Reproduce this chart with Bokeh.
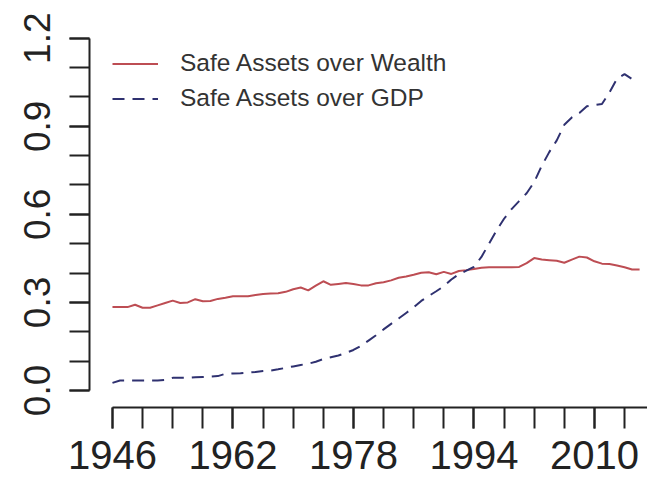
from bokeh.plotting import figure
from bokeh.models import FixedTicker, Range1d, Legend, LegendItem
from bokeh.embed import file_html
from bokeh.resources import INLINE

# ---- data ----
years_wealth = [1946, 1947, 1948, 1949, 1950, 1951, 1952, 1953, 1954, 1955,
                1956, 1957, 1958, 1959, 1960, 1961, 1962, 1963, 1964, 1965,
                1966, 1967, 1968, 1969, 1970, 1971, 1972, 1973, 1974, 1975,
                1976, 1977, 1978, 1979, 1980, 1981, 1982, 1983, 1984, 1985,
                1986, 1987, 1988, 1989, 1990, 1991, 1992, 1993, 1994, 1995,
                1996, 1997, 1998, 1999, 2000, 2001, 2002, 2003, 2004, 2005,
                2006, 2007, 2008, 2009, 2010, 2011, 2012, 2013, 2014, 2015,
                2016]
safe_over_wealth = [0.284, 0.284, 0.284, 0.292, 0.282, 0.282, 0.290, 0.298, 0.306, 0.298,
                    0.300, 0.311, 0.304, 0.305, 0.312, 0.316, 0.321, 0.321, 0.321, 0.325,
                    0.329, 0.330, 0.331, 0.336, 0.345, 0.351, 0.341, 0.357, 0.372, 0.360,
                    0.363, 0.366, 0.363, 0.358, 0.358, 0.365, 0.369, 0.375, 0.384, 0.388,
                    0.394, 0.401, 0.403, 0.396, 0.404, 0.397, 0.407, 0.410, 0.414, 0.418,
                    0.420, 0.420, 0.420, 0.420, 0.421, 0.434, 0.451, 0.446, 0.444, 0.442,
                    0.435, 0.446, 0.456, 0.453, 0.440, 0.432, 0.431, 0.426, 0.420, 0.412,
                    0.412]

years_gdp = [1946, 1947, 1948, 1949, 1950, 1951, 1952, 1953, 1954, 1955,
             1956, 1957, 1958, 1959, 1960, 1961, 1962, 1963, 1964, 1965,
             1966, 1967, 1968, 1969, 1970, 1971, 1972, 1973, 1974, 1975,
             1976, 1977, 1978, 1979, 1980, 1981, 1982, 1983, 1984, 1985,
             1986, 1987, 1988, 1989, 1990, 1991, 1992, 1993, 1994, 1995,
             1996, 1997, 1998, 1999, 2000, 2001, 2002, 2003, 2004, 2005,
             2006, 2007, 2008, 2009, 2010, 2011, 2012, 2013, 2014, 2015]
safe_over_gdp = [0.026, 0.034, 0.034, 0.034, 0.034, 0.034, 0.034, 0.036, 0.043, 0.043,
                 0.043, 0.045, 0.046, 0.047, 0.049, 0.057, 0.058, 0.059, 0.061, 0.063,
                 0.066, 0.068, 0.072, 0.077, 0.082, 0.087, 0.091, 0.098, 0.107, 0.113,
                 0.119, 0.128, 0.138, 0.152, 0.170, 0.188, 0.208, 0.227, 0.245, 0.264,
                 0.283, 0.305, 0.322, 0.338, 0.355, 0.378, 0.396, 0.408, 0.421, 0.455,
                 0.500, 0.545, 0.585, 0.618, 0.645, 0.672, 0.710, 0.765, 0.812, 0.852,
                 0.905, 0.930, 0.945, 0.968, 0.972, 0.976, 1.015, 1.062, 1.078, 1.061]

x_tick_labels = [1946, 1962, 1978, 1994, 2010]
x_tick_marks = [1946, 1950, 1954, 1958, 1962, 1966, 1970, 1974, 1978, 1982,
                1986, 1990, 1994, 1998, 2002, 2006, 2010, 2014]
y_tick_labels = [0.0, 0.3, 0.6, 0.9, 1.2]
y_tick_marks = [0.0, 0.1, 0.2, 0.3, 0.4, 0.5, 0.6, 0.7, 0.8, 0.9, 1.0, 1.1, 1.2]

series_names = ["Safe Assets over Wealth", "Safe Assets over GDP"]
RED = "#bd4d53"
BLUE = "#2f3170"
INK = "#222222"
FONT = "Liberation Sans"

p = figure(width=647, height=486, output_backend="svg", toolbar_location=None,
           x_range=Range1d(1942.95, 2017.05), y_range=Range1d(-0.058, 1.257),
           min_border_left=89, min_border_right=0, min_border_top=21,
           min_border_bottom=79)
p.outline_line_color = None
p.xgrid.visible = False
p.ygrid.visible = False
p.background_fill_color = "white"
p.border_fill_color = "white"

r1 = p.line(years_wealth, safe_over_wealth, line_color=RED, line_width=2)
r2 = p.line(years_gdp, safe_over_gdp, line_color=BLUE, line_width=2,
            line_dash="12 8")

for ax in (p.xaxis[0], p.yaxis[0]):
    ax.axis_line_color = INK
    ax.axis_line_width = 2
    ax.major_tick_line_color = INK
    ax.major_tick_line_width = 2
    ax.minor_tick_line_color = INK
    ax.minor_tick_line_width = 2
    ax.major_tick_in = 0
    ax.minor_tick_in = 0
    ax.major_label_text_font = FONT
    ax.major_label_text_color = INK

xa = p.xaxis[0]
xa.ticker = FixedTicker(ticks=x_tick_labels, minor_ticks=x_tick_marks)
xa.bounds = (1946, 2017.05)
xa.major_tick_out = 21
xa.minor_tick_out = 21
xa.major_label_standoff = 12
xa.major_label_text_font_size = "40px"

ya = p.yaxis[0]
ya.ticker = FixedTicker(ticks=y_tick_labels, minor_ticks=y_tick_marks)
ya.major_label_overrides = {v: f"{v:.1f}" for v in y_tick_labels}
ya.bounds = (0, 1.2)
ya.major_tick_out = 20
ya.minor_tick_out = 20
ya.major_label_standoff = 19
ya.major_label_orientation = "vertical"
ya.major_label_text_font_size = "37px"

legend = Legend(items=[LegendItem(label=series_names[0], renderers=[r1]),
                       LegendItem(label=series_names[1], renderers=[r2])],
                location=(23, 295), padding=0, margin=0, spacing=7,
                glyph_width=46, glyph_height=27, label_height=27,
                label_standoff=22, label_text_font=FONT,
                label_text_font_size="24.5px", label_text_color="#333333",
                border_line_alpha=0, background_fill_alpha=0)
p.add_layout(legend)

open("out.html", "w").write(file_html(p, INLINE))
